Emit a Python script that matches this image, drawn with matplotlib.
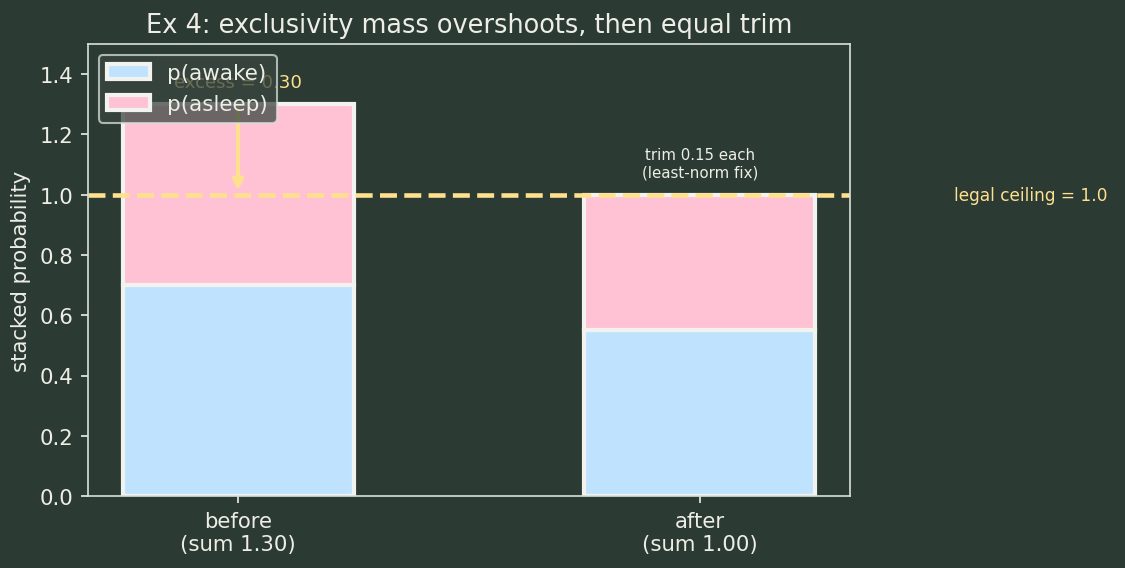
import matplotlib
matplotlib.use("Agg")
import matplotlib.pyplot as plt

# data
stages = ["before\n(sum 1.30)", "after\n(sum 1.00)"]
p_awake = [0.70, 0.55]
p_asleep = [0.60, 0.45]
ceiling = 1.0
excess = 0.30

BG = "#2b3b34"
FG = "#eeeee6"
YELLOW = "#ffe08f"
AWAKE_C = "#bfe3ff"
ASLEEP_C = "#ffc2d4"

plt.rcParams["font.family"] = "DejaVu Sans"

fig, ax = plt.subplots(figsize=(7.5, 3.793), dpi=150)
fig.patch.set_facecolor(BG)
ax.set_facecolor(BG)
fig.subplots_adjust(left=0.0782, right=0.7556, top=0.9209, bottom=0.1265)

x = range(len(stages))
ax.bar(x, p_awake, width=0.5, color=AWAKE_C, edgecolor="#f2f2ee", linewidth=2, label="p(awake)")
ax.bar(x, p_asleep, width=0.5, bottom=p_awake, color=ASLEEP_C, edgecolor="#f2f2ee", linewidth=2, label="p(asleep)")

ax.axhline(ceiling, color=YELLOW, linestyle="--", linewidth=2.2)
ax.text(1.55, ceiling, "legal ceiling = 1.0", color=YELLOW, fontsize=8.2, ha="left", va="center")

before_total = p_awake[0] + p_asleep[0]
ax.annotate("", xy=(0, ceiling), xytext=(0, before_total),
            arrowprops=dict(arrowstyle="-|>", color=YELLOW, lw=2))
ax.text(0, before_total + 0.075, f"excess = {excess:.2f}", color=YELLOW, fontsize=8.7, ha="center", va="center")
ax.text(1, ceiling + 0.05, "trim 0.15 each\n(least-norm fix)", color=FG, fontsize=7.2, ha="center", va="bottom")

ax.set_xticks(list(x))
ax.set_xticklabels(stages)
ax.set_ylim(0, 1.5)
ax.set_ylabel("stacked probability", color=FG, fontsize=10.2)
ax.set_title("Ex 4: exclusivity mass overshoots, then equal trim", color=FG, fontsize=12.3)
ax.tick_params(colors=FG, labelsize=10.2)
for s in ax.spines.values():
    s.set_color("#d8e0dc")

leg = ax.legend(loc="upper left", fontsize=10.3, facecolor="#3a4640", edgecolor="#d8e0dc", labelcolor=FG,
                framealpha=0.75)

fig.savefig("out.png", dpi=150, facecolor=BG)
